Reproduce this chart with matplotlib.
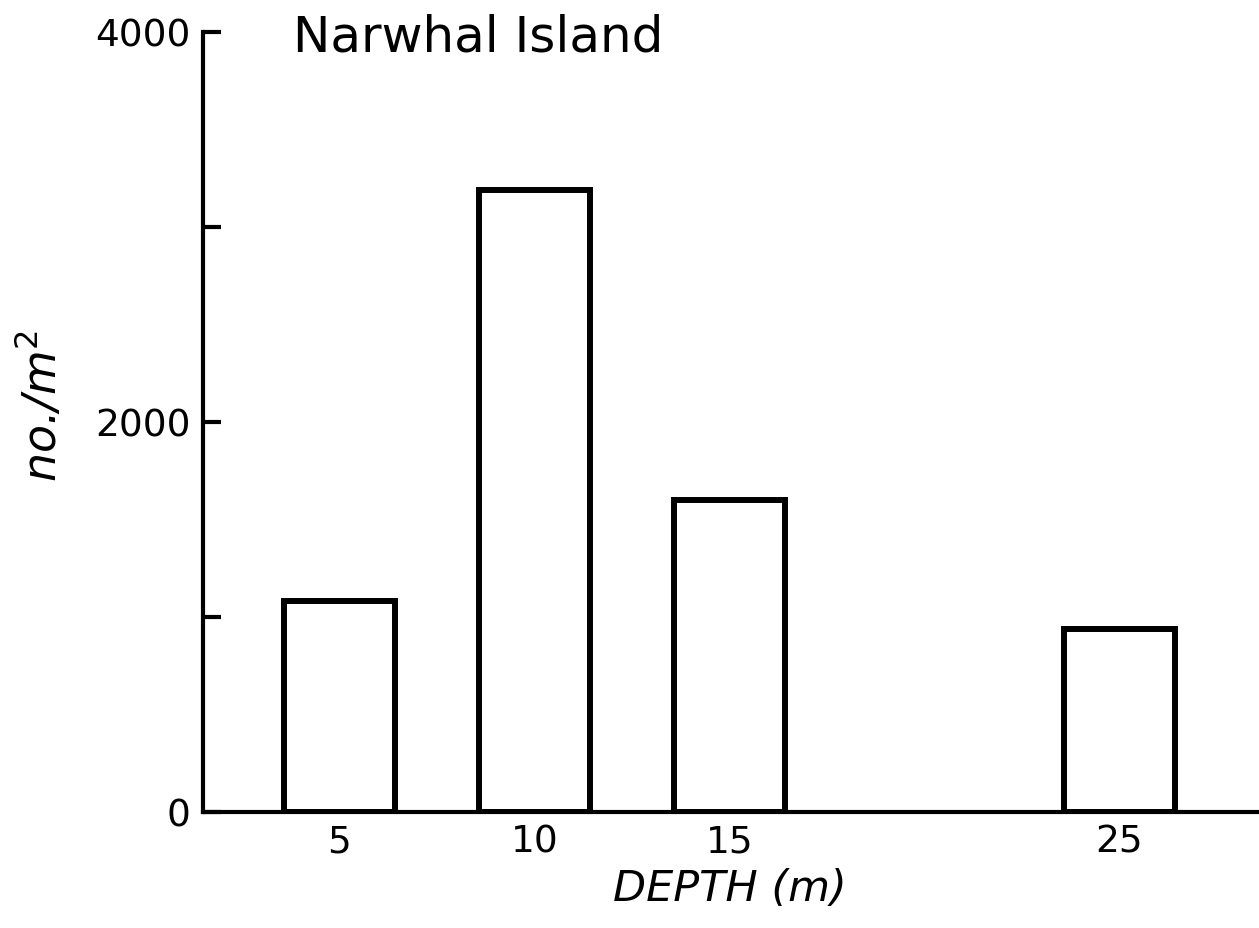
import matplotlib
matplotlib.use("Agg")
import matplotlib.pyplot as plt

depths = [5, 10, 15, 25]
density = [1080, 3190, 1600, 940]
xtick_labels = ["5", "10", "15", "25"]
ytick_values = [0, 1000, 2000, 3000, 4000]
ytick_labels = ["0", "", "2000", "", "4000"]

plt.rcParams['font.family'] = ['DejaVu Sans']
plt.rcParams['mathtext.default'] = 'it'

fig = plt.figure(figsize=(12.59, 9.29), dpi=100)
fig.patch.set_facecolor('white')
ax = fig.add_axes([0.1612, 0.1249, 0.8388, 0.8396])

ax.bar(depths, density, width=2.85, facecolor='white', edgecolor='black',
       linewidth=4.3)

ax.set_xlim(1.5, 28.58)
ax.set_ylim(0, 4000)

for s in ['top', 'right']:
    ax.spines[s].set_visible(False)
for s in ['left', 'bottom']:
    ax.spines[s].set_linewidth(3)

ax.set_yticks(ytick_values)
ax.set_yticklabels(ytick_labels)
ax.tick_params(axis='y', direction='in', length=13, width=3, pad=9, labelsize=27)
ax.set_xticks(depths)
ax.set_xticklabels(xtick_labels)
ax.tick_params(axis='x', length=0, pad=8, labelsize=27)

ax.set_xlabel("DEPTH (m)", fontsize=31, style='italic')
ax.xaxis.set_label_coords(0.499, -0.070)
ax.set_ylabel("no./m$^2$", fontsize=33, style='italic')
ax.yaxis.set_label_coords(-0.130, 0.522)

ax.text(0.085, 1.0244, "Narwhal Island", transform=ax.transAxes, fontsize=36,
        ha='left', va='top')

fig.savefig("out.png", dpi=100, facecolor='white')
